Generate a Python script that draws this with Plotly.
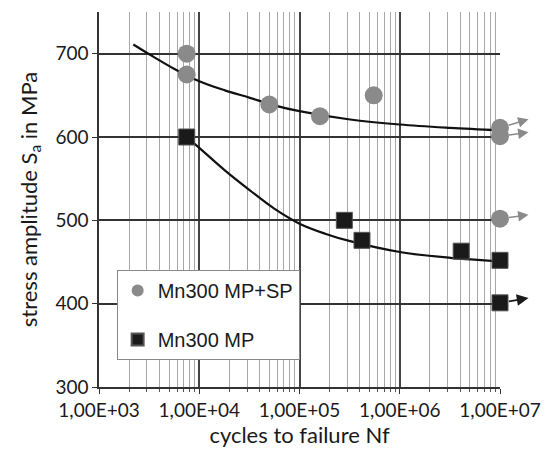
import math
import plotly.graph_objects as go

# ---- data ----
mpsp_N = [7.5e3, 7.5e3, 5.0e4, 1.6e5, 5.5e5, 1.0e7, 1.0e7, 1.0e7]
mpsp_S = [700, 675, 639, 625, 650, 611, 601, 502]
mp_N = [7.5e3, 2.8e5, 4.2e5, 4.1e6, 1.0e7, 1.0e7]
mp_S = [600, 500, 476, 463, 452, 401]

# run-outs (points with arrows): index into the series above, plus arrow rise in px
mpsp_runout_idx = [5, 6, 7]
mpsp_runout_rise = [9, 4, 4]
mp_runout_idx = [5]
mp_runout_rise = [5]

# fitted curves
fit_mpsp_N = [2.2e3, 3.2e3, 5.6e3, 1e4, 1.8e4, 3.2e4, 5.6e4, 1e5, 3.2e5, 1e6, 3.2e6, 1e7]
fit_mpsp_S = [711, 699, 682, 667, 656, 647, 638, 631, 621, 615, 611, 608]
fit_mp_N = [7.5e3, 1e4, 1.8e4, 3.2e4, 5.6e4, 1e5, 1.8e5, 3.2e5, 1e6, 3.2e6, 1e7]
fit_mp_S = [600, 587, 560, 536, 514, 496, 484, 475, 462, 455, 451]

x_tickvals = [1e3, 1e4, 1e5, 1e6, 1e7]
x_ticktext = ["1,00E+03", "1,00E+04", "1,00E+05", "1,00E+06", "1,00E+07"]
y_tickvals = [300, 400, 500, 600, 700]

GRAY = "#8a8a8a"
BLACK = "#1a1a1a"

fig = go.Figure()
fig.add_trace(go.Scatter(x=fit_mpsp_N, y=fit_mpsp_S, mode="lines",
                         line=dict(color="#111", width=2.2, shape="spline", smoothing=1),
                         showlegend=False, hoverinfo="skip"))
fig.add_trace(go.Scatter(x=fit_mp_N, y=fit_mp_S, mode="lines",
                         line=dict(color="#111", width=2.2, shape="spline", smoothing=1),
                         showlegend=False, hoverinfo="skip"))
fig.add_trace(go.Scatter(x=mpsp_N, y=mpsp_S, mode="markers", name="Mn300 MP+SP",
                         legendgroup="a", cliponaxis=False,
                         marker=dict(symbol="circle", size=18, color=GRAY,
                                     line=dict(width=0))))
fig.add_trace(go.Scatter(x=mp_N, y=mp_S, mode="markers", name="Mn300 MP",
                         legendgroup="b", cliponaxis=False,
                         marker=dict(symbol="square", size=16, color=BLACK,
                                     line=dict(width=1, color="#555"))))

annotations = []
for i, rise in zip(mpsp_runout_idx, mpsp_runout_rise):
    annotations.append(dict(x=math.log10(mpsp_N[i]), y=mpsp_S[i],
                            xref="x", yref="y", text="", showarrow=True,
                            ax=30, ay=-rise, arrowside="start", arrowhead=2,
                            startarrowhead=2, startarrowsize=1.3, arrowwidth=1.6,
                            arrowcolor=GRAY, standoff=9))
for i, rise in zip(mp_runout_idx, mp_runout_rise):
    annotations.append(dict(x=math.log10(mp_N[i]), y=mp_S[i],
                            xref="x", yref="y", text="", showarrow=True,
                            ax=30, ay=-rise, arrowside="start", arrowhead=2,
                            startarrowhead=2, startarrowsize=1.3, arrowwidth=1.8,
                            arrowcolor=BLACK, standoff=9))

fig.update_layout(
    width=553, height=458,
    margin=dict(l=99, r=42, t=12, b=71),
    paper_bgcolor="white", plot_bgcolor="white",
    font=dict(family="Lato, Open Sans, sans-serif", color="#1a1a1a", size=19),
    annotations=annotations,
    legend=dict(x=0.044, y=0.312, xanchor="left", yanchor="top",
                bgcolor="white", bordercolor="#888", borderwidth=1,
                font=dict(family="Liberation Sans, Arial, sans-serif", size=20, color="#1a1a1a"),
                itemsizing="constant", itemwidth=30, traceorder="grouped",
                tracegroupgap=20),
    xaxis=dict(type="log", range=[3, 7], tickvals=x_tickvals, ticktext=x_ticktext,
               showgrid=True, gridcolor="#444", gridwidth=1.5,
               showline=True, linecolor="#333", linewidth=1.5,
               ticks="outside", ticklen=5, tickcolor="#333",
               minor=dict(showgrid=True, gridcolor="#a8a8a8", gridwidth=1,
                          ticks="outside", ticklen=3, tickcolor="#555", dtick="D1"),
               zeroline=False,
               title=dict(text="cycles to failure Nf", font=dict(size=22), standoff=8)),
    yaxis=dict(range=[300, 750], tickvals=y_tickvals,
               showgrid=True, gridcolor="#333", gridwidth=1.5,
               showline=True, linecolor="#333", linewidth=1.5,
               ticks="outside", ticklen=5, tickcolor="#333", zeroline=False,
               title=dict(text="stress amplitude S<sub>a</sub> in MPa",
                          font=dict(size=22), standoff=12)),
)

fig.write_html("out.html")
